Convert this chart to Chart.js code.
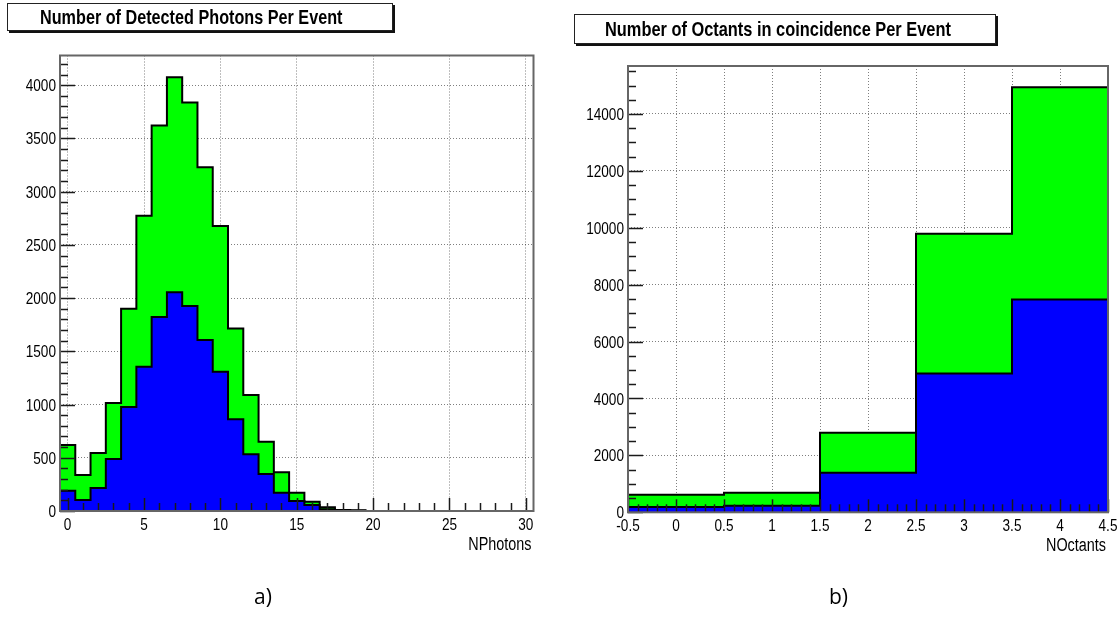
<!DOCTYPE html>
<html>
<head>
<meta charset="utf-8">
<title>Photons and octants per event</title>
<script src="https://cdn.jsdelivr.net/npm/chart.js@4.4.1/dist/chart.umd.min.js"></script>
<style>
  html, body { margin: 0; padding: 0; background: #fff; overflow: hidden; }
  body { position: relative; width: 1120px; height: 641px; }
  canvas { position: absolute; top: 0; }
  #photons { left: 0; }
  #octants { left: 560px; }
  .pave {
    position: absolute; box-sizing: border-box; background: #fff;
    border: 1px solid #222; box-shadow: 2px 2px 0 #111;
    font-family: 'Liberation Sans', Arial, sans-serif;
    font-weight: bold; white-space: nowrap; color: #000;
  }
  .pave span { display: inline-block; transform-origin: left center; }
  .caption { position: absolute; font-family: 'Open Sans', sans-serif; font-size: 21px; line-height: 22px; }
</style>
</head>
<body>
<canvas id="photons" width="560" height="641"></canvas>
<canvas id="octants" width="580" height="641"></canvas>

<div class="pave" style="left:7px;top:3px;width:386px;height:28px;font-size:20px;line-height:26px;padding-left:32px;"><span style="transform:scaleX(0.81)">Number of Detected Photons Per Event</span></div>
<div class="pave" style="left:574px;top:14px;width:422px;height:30px;font-size:21px;line-height:28px;padding-left:30px;"><span style="transform:scaleX(0.78)">Number of Octants in coincidence Per Event</span></div>
<div class="caption" style="left:254px;top:585px;">a)</div>
<div class="caption" style="left:829px;top:585px;">b)</div>

<script>
// bin centres and contents, one entry per bin
const photonBins = [0, 1, 2, 3, 4, 5, 6, 7, 8, 9, 10, 11, 12, 13, 14, 15,
                    16, 17, 18, 19, 20, 21, 22, 23, 24, 25, 26, 27, 28, 29, 30];
const photonsGreen = [620, 338, 545, 1014, 1900, 2773, 3621, 4075, 3838, 3230, 2676,
                      1715, 1089, 651, 363, 172, 87, 35, 10, 8, 0, 0, 0, 0, 0, 0, 0, 0, 0, 0, 0];
const photonsBlue = [190, 103, 216, 488, 977, 1355, 1823, 2054, 1925, 1606, 1308,
                     861, 532, 347, 172, 95, 56, 16, 4, 3, 0, 0, 0, 0, 0, 0, 0, 0, 0, 0, 0];

const octantBins = [0, 1, 2, 3, 4];
const octantsGreen = [620, 690, 2795, 9789, 14940];
const octantsBlue = [185, 232, 1392, 4880, 7484];

const SANS = "'Liberation Sans', Arial, sans-serif";
const SQUEEZE = 0.8;   // horizontal squeeze for the narrow Helvetica look
const GREEN = '#00ff00';
const BLUE = '#0000ff';

// histogram as step points on the bin edges
function histSteps(centers, counts) {
  const pts = centers.map((c, i) => ({ x: c - 0.5, y: counts[i] }));
  pts.push({ x: centers[centers.length - 1] + 0.5, y: counts[counts.length - 1] });
  return pts;
}

function stepsFrom(min, max, step) {
  const out = [];
  for (let k = Math.ceil(min / step - 1e-9); k * step <= max + 1e-9; k++) {
    out.push({ value: Math.round(k * step * 1000) / 1000 });
  }
  return out;
}

// inward tick marks and frame, drawn over the histograms
const rootAxes = {
  id: 'rootAxes',
  afterDatasetsDraw(chart, args, o) {
    const { ctx, chartArea: a, scales: { x, y } } = chart;
    ctx.save();
    ctx.strokeStyle = '#1a1a1a';
    ctx.lineWidth = 1.5;
    const every = (min, max, minor, major, draw) => {
      const per = Math.round(major / minor);
      for (let k = Math.ceil(min / minor - 1e-9); k * minor <= max + 1e-9; k++) {
        draw(k * minor, k % per === 0);
      }
    };
    every(y.min, y.max, o.yMinor, o.yMajor, (v, big) => {
      const py = Math.round(y.getPixelForValue(v)) + 0.5;
      ctx.beginPath();
      ctx.moveTo(a.left, py);
      ctx.lineTo(a.left + (big ? 15 : 8), py);
      ctx.stroke();
    });
    every(x.min, x.max, o.xMinor, o.xMajor, (v, big) => {
      const px = Math.round(x.getPixelForValue(v)) + 0.5;
      ctx.beginPath();
      ctx.moveTo(px, a.bottom);
      ctx.lineTo(px, a.bottom - (big ? 13 : 8));
      ctx.stroke();
    });
    ctx.strokeStyle = '#666';
    ctx.lineWidth = 2;
    ctx.strokeRect(a.left, a.top, a.right - a.left, a.bottom - a.top);
    ctx.restore();
  },
  // tick labels and axis title in a squeezed font
  afterDraw(chart, args, o) {
    const { ctx, chartArea: a, scales: { x, y } } = chart;
    const put = (text, px, py, align) => {
      ctx.textAlign = align;
      ctx.fillText(text, px / SQUEEZE, py);
    };
    ctx.save();
    ctx.scale(SQUEEZE, 1);
    ctx.fillStyle = '#000';
    ctx.textBaseline = 'alphabetic';
    ctx.font = `${o.fontSize}px ${SANS}`;
    const half = o.fontSize * 0.716 / 2;
    y.ticks.forEach(t => put(String(t.value), a.left - 4, y.getPixelForValue(t.value) + half, 'right'));
    x.ticks.forEach(t => put(String(t.value), x.getPixelForValue(t.value), a.bottom + 19, 'center'));
    ctx.font = `${o.fontSize + 1}px ${SANS}`;
    put(o.xTitle, a.right - 2, a.bottom + 39, 'right');
    ctx.restore();
  }
};

function makeHist(id, h) {
  const canvas = document.getElementById(id);
  const W = canvas.width, H = canvas.height;
  const axisH = 50;
  const yMax = 1.05 * Math.max(...h.green);

  return new Chart(canvas, {
    type: 'line',
    data: {
      datasets: [
        { data: histSteps(h.centers, h.blue), backgroundColor: BLUE },
        { data: histSteps(h.centers, h.green), backgroundColor: GREEN }
      ].map(d => Object.assign(d, {
        borderColor: '#000',
        borderWidth: 2,
        fill: 'origin',
        stepped: true,
        pointRadius: 0,
        pointHoverRadius: 0
      }))
    },
    options: {
      responsive: false,
      animation: false,
      devicePixelRatio: 1,
      layout: {
        padding: { left: 0, top: h.top, right: W - h.right, bottom: H - h.bottom - axisH }
      },
      scales: {
        x: {
          type: 'linear',
          min: h.xMin,
          max: h.xMax,
          afterBuildTicks: s => { s.ticks = stepsFrom(h.xMin, h.xMax, h.xMajor); },
          afterFit: s => { s.height = axisH; },
          ticks: { display: false },
          grid: { drawTicks: false, color: 'rgba(0,0,0,0.5)', lineWidth: 1 },
          border: { display: false, dash: [1, 2] }
        },
        y: {
          type: 'linear',
          min: 0,
          max: yMax,
          afterBuildTicks: s => { s.ticks = stepsFrom(0, yMax, h.yMajor); },
          afterFit: s => { s.width = h.left; },
          ticks: { display: false },
          grid: { drawTicks: false, color: 'rgba(0,0,0,0.5)', lineWidth: 1 },
          border: { display: false, dash: [1, 2] }
        }
      },
      plugins: {
        legend: { display: false },
        tooltip: { enabled: false },
        rootAxes: {
          xMajor: h.xMajor, xMinor: h.xMinor, yMajor: h.yMajor, yMinor: h.yMinor,
          fontSize: h.fontSize, xTitle: h.xTitle
        }
      }
    },
    plugins: [rootAxes]
  });
}

makeHist('photons', {
  centers: photonBins, green: photonsGreen, blue: photonsBlue,
  xMin: -0.5, xMax: 30.5, xMajor: 5, xMinor: 1,
  yMajor: 500, yMinor: 100,
  xTitle: 'NPhotons', fontSize: 17,
  left: 60, right: 533.5, top: 55.5, bottom: 511
});

makeHist('octants', {
  centers: octantBins, green: octantsGreen, blue: octantsBlue,
  xMin: -0.5, xMax: 4.5, xMajor: 0.5, xMinor: 0.1,
  yMajor: 2000, yMinor: 500,
  xTitle: 'NOctants', fontSize: 17,
  left: 68, right: 548, top: 66, bottom: 512.3
});
</script>
</body>
</html>
